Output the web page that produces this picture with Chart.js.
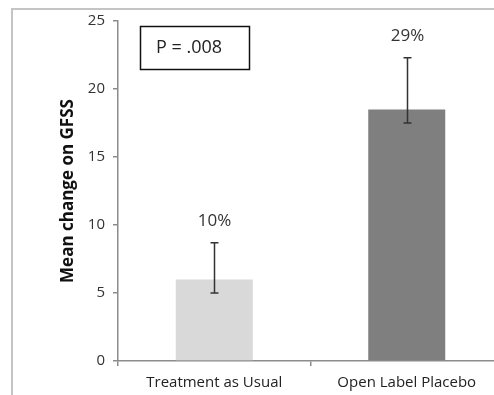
<!DOCTYPE html>
<html>
<head>
<meta charset="utf-8">
<script src="https://cdn.jsdelivr.net/npm/chart.js@4"></script>
<style>
  html, body { margin: 0; padding: 0; background: #fff; overflow: hidden; }
  #wrap { width: 510px; height: 395px; }
</style>
</head>
<body>
<div id="wrap"><canvas id="myChart" width="510" height="395"></canvas></div>
<script>
const ctx = document.getElementById('myChart');

// data
const groups = ['Treatment as Usual', 'Open Label Placebo'];
const meanChange = [6.0, 18.5];
const errLow = [5.0, 17.5];
const errHigh = [8.7, 22.3];
const pctLabels = ['10%', '29%'];
const yTicks = [0, 5, 10, 15, 20, 25];
const pText = 'P = .008';

const FONT = '"Open Sans", Lato, sans-serif';

const extras = {
    id: 'extras',
    beforeDraw: (chart) => {
        const { ctx } = chart;
        ctx.save();
        // outer frame
        ctx.strokeStyle = '#c4c4c4';
        ctx.lineWidth = 2;
        ctx.strokeRect(12, 9, 600, 600);
        ctx.restore();
    },
    afterDatasetsDraw: (chart) => {
        const { ctx } = chart;
        const x = chart.scales.x, y = chart.scales.y;
        ctx.save();
        // error bars
        ctx.strokeStyle = '#333';
        ctx.lineWidth = 1.5;
        groups.forEach((g, i) => {
            const cx = Math.round(x.getPixelForValue(i)) + 0.5;
            const yl = y.getPixelForValue(errLow[i]);
            const yh = y.getPixelForValue(errHigh[i]);
            ctx.beginPath();
            ctx.moveTo(cx, yl); ctx.lineTo(cx, yh);
            ctx.moveTo(cx - 4, yl); ctx.lineTo(cx + 4, yl);
            ctx.moveTo(cx - 4, yh); ctx.lineTo(cx + 4, yh);
            ctx.stroke();
            // percent label
            ctx.fillStyle = '#333';
            ctx.font = '17px ' + FONT;
            ctx.textAlign = 'center';
            ctx.textBaseline = 'middle';
            ctx.fillText(pctLabels[i], cx, yh - 22);
        });
        // P value box
        ctx.strokeStyle = '#111';
        ctx.lineWidth = 1.5;
        ctx.strokeRect(140.5, 26.5, 109, 43);
        ctx.fillStyle = '#222';
        ctx.font = '18px ' + FONT;
        ctx.textAlign = 'center';
        ctx.textBaseline = 'middle';
        ctx.fillText(pText, 189, 48);
        ctx.restore();
    }
};

new Chart(ctx, {
    type: 'bar',
    data: {
        labels: groups,
        datasets: [{
            data: meanChange,
            backgroundColor: ['#d9d9d9', '#7f7f7f'],
            barPercentage: 0.4,
            categoryPercentage: 1.0
        }]
    },
    options: {
        responsive: false,
        animation: false,
        layout: { padding: { left: 0, right: 7, top: 21, bottom: 0 } },
        plugins: {
            legend: { display: false },
            tooltip: { enabled: false }
        },
        scales: {
            y: {
                min: 0,
                max: 25,
                afterFit: (s) => { s.width = 118; },
                afterBuildTicks: (s) => { s.ticks = yTicks.map(v => ({ value: v })); },
                border: { color: '#8c8c8c', width: 1.5 },
                grid: { drawOnChartArea: false, color: '#8c8c8c', tickLength: 5, lineWidth: 1.5 },
                ticks: { color: '#333', font: { family: FONT, size: 15 }, padding: 8 },
                title: {
                    display: true,
                    text: 'Mean change on GFSS',
                    color: '#111',
                    font: { family: FONT, size: 17, weight: 'bold' },
                    padding: { top: 58, bottom: 0 }
                }
            },
            x: {
                afterFit: (s) => { s.height = 34; },
                border: { color: '#8c8c8c', width: 1.5 },
                grid: { drawOnChartArea: false, color: '#8c8c8c', tickLength: 5, lineWidth: 1.5 },
                ticks: { color: '#222', font: { family: FONT, size: 15 }, padding: 8, maxRotation: 0 }
            }
        }
    },
    plugins: [extras]
});
</script>
</body>
</html>
